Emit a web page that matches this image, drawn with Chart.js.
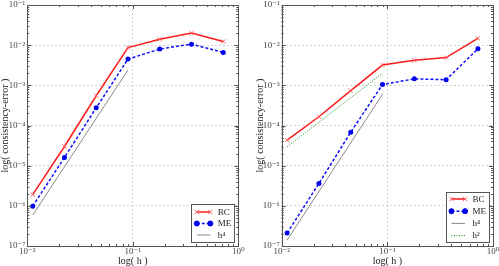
<!DOCTYPE html>
<html>
<head>
<meta charset="utf-8">
<script src="https://cdn.jsdelivr.net/npm/chart.js@4.4.1/dist/chart.umd.min.js"></script>
<style>
  body { margin: 0; background: #fff; }
  canvas { position: absolute; top: 0; }
</style>
</head>
<body>
<canvas id="left" width="250" height="266" style="left:0"></canvas>
<canvas id="right" width="249" height="266" style="left:250px"></canvas>
<script>
// mesh sizes and errors
const hValues = [0.01125, 0.0225, 0.045, 0.09, 0.18, 0.36, 0.72];
const refH = [0.01125, 0.09];

const bcLeft = [1.9e-6, 3.0e-5, 5.5e-4, 8.7e-3, 1.4e-2, 2.0e-2, 1.23e-2];
const meLeft = [9.8e-7, 1.6e-5, 2.75e-4, 4.5e-3, 8.0e-3, 1.06e-2, 6.6e-3];
const h4Left = [5.9e-7, 2.4e-3];

const bcRight = [4.3e-5, 1.65e-4, 7.4e-4, 3.2e-3, 4.2e-3, 4.9e-3, 1.48e-2];
const meRight = [2.1e-7, 3.6e-6, 6.8e-5, 1.05e-3, 1.45e-3, 1.38e-3, 8.1e-3];
const h4Right = [1.4e-7, 6.0e-4];
const h2Right = [2.95e-5, 2.0e-3];

const xTicks = [1e-2, 1e-1, 1];
const xTickLabels = ["10\u207B\u00B2", "10\u207B\u00B9", "10\u2070"];
const yTicks = [1e-7, 1e-6, 1e-5, 1e-4, 1e-3, 1e-2, 1e-1];
const yTickLabels = ["10\u207B\u2077", "10\u207B\u2076", "10\u207B\u2075", "10\u207B\u2074", "10\u207B\u00B3", "10\u207B\u00B2", "10\u207B\u00B9"];

const serif = "'Liberation Serif', 'DejaVu Serif', serif";
const textColor = "#444";
const frameColor = "#555";

function pts(xs, ys) {
  return xs.map((x, i) => ({ x: x, y: ys[i] }));
}

function bcSet(ys) {
  return {
    label: "BC", data: pts(hValues, ys),
    borderColor: "#ff1a1a", borderWidth: 1.5,
    pointStyle: "crossRot", pointRadius: 3, pointBorderWidth: 1,
    pointBorderColor: "#ff6060", pointBackgroundColor: "#ff6060",
  };
}
function meSet(ys) {
  return {
    label: "ME", data: pts(hValues, ys),
    borderColor: "#1010ff", borderWidth: 1.5, borderDash: [3, 2],
    pointStyle: "circle", pointRadius: 2.5, pointBorderWidth: 0,
    pointBackgroundColor: "#0000ee", pointBorderColor: "#0000ee",
  };
}
function refSet(label, ys, color, dash) {
  return {
    label: label, data: pts(refH, ys),
    borderColor: color, borderWidth: 1, borderDash: dash,
    pointRadius: 0,
  };
}

// box, inward ticks and the legend
const framePlugin = {
  id: "frame",
  afterDraw(chart, args, opts) {
    const ctx = chart.ctx;
    const a = chart.chartArea;
    const xs = chart.scales.x, ys = chart.scales.y;
    ctx.save();
    ctx.strokeStyle = frameColor;
    ctx.lineWidth = 1;
    ctx.setLineDash([]);
    ctx.beginPath();
    for (let d = 0.01; d < 1.5; d *= 10) {
      for (let k = 1; k <= 9; k++) {
        const v = d * k;
        if (v > 1.0001) break;
        const px = Math.round(xs.getPixelForValue(v)) + 0.5;
        const len = k === 1 ? 4 : 2;
        ctx.moveTo(px, a.bottom); ctx.lineTo(px, a.bottom - len);
        ctx.moveTo(px, a.top); ctx.lineTo(px, a.top + len);
      }
    }
    for (let d = 1e-7; d < 0.15; d *= 10) {
      for (let k = 1; k <= 9; k++) {
        const v = d * k;
        if (v > 0.10001) break;
        const py = Math.round(ys.getPixelForValue(v)) + 0.5;
        const len = k === 1 ? 4 : 2;
        ctx.moveTo(a.left, py); ctx.lineTo(a.left + len, py);
        ctx.moveTo(a.right, py); ctx.lineTo(a.right - len, py);
      }
    }
    ctx.stroke();
    ctx.strokeRect(Math.round(a.left) + 0.5, Math.round(a.top) + 0.5,
      Math.round(a.right - a.left), Math.round(a.bottom - a.top));

    // legend
    const sets = chart.data.datasets;
    const w = opts.width, h = opts.height;
    const bx = a.right - 4 - w, by = a.bottom - 4 - h;
    ctx.fillStyle = "#fff";
    ctx.fillRect(bx, by, w, h);
    ctx.strokeStyle = frameColor;
    ctx.strokeRect(Math.round(bx) + 0.5, Math.round(by) + 0.5, Math.round(w), Math.round(h));
    sets.forEach((ds, i) => {
      const yy = by + opts.firstRow + i * opts.rowH;
      const x0 = bx + 5.5, x1 = bx + 19;
      ctx.strokeStyle = ds.borderColor;
      ctx.lineWidth = ds.borderWidth;
      ctx.setLineDash(ds.borderDash || []);
      ctx.beginPath();
      ctx.moveTo(x0, yy); ctx.lineTo(x1, yy);
      ctx.stroke();
      ctx.setLineDash([]);
      if (ds.pointRadius > 0) {
        ctx.fillStyle = ds.pointBackgroundColor;
        ctx.strokeStyle = ds.pointBorderColor;
        ctx.lineWidth = 1;
        [x0, x1].forEach((px) => {
          Chart.helpers.drawPoint(ctx, {
            pointStyle: ds.pointStyle, radius: ds.pointRadius,
            rotation: 0, borderWidth: ds.pointBorderWidth || 1,
          }, px, yy);
          if (ds.pointStyle === "circle") ctx.fill();
        });
      }
      ctx.fillStyle = "#222";
      ctx.font = "9px " + serif;
      ctx.textBaseline = "middle";
      ctx.textAlign = "left";
      ctx.fillText(ds.label, bx + 26.5, yy + 0.5);
    });
    ctx.restore();
  },
};

function makeChart(id, datasets, padding, yWidth, legend) {
  return new Chart(document.getElementById(id), {
    type: "line",
    data: { datasets: datasets },
    plugins: [framePlugin],
    options: {
      responsive: false,
      animation: false,
      devicePixelRatio: 1,
      layout: { padding: padding },
      plugins: {
        legend: { display: false },
        tooltip: { enabled: false },
        frame: legend,
      },
      scales: {
        x: {
          type: "logarithmic", min: 0.01, max: 1,
          afterBuildTicks: (s) => { s.ticks = xTicks.map((v) => ({ value: v })); },
          afterFit: (s) => { s.height = 20; s.paddingLeft = 0; s.paddingRight = 0; },
          ticks: {
            autoSkip: false, maxRotation: 0, padding: 1,
            color: textColor, font: { family: serif, size: 9, lineHeight: 1 },
            callback: (v, i) => xTickLabels[i],
          },
          grid: { color: "#c8c8c8", drawTicks: false, lineWidth: 0.8 },
          border: { display: false, dash: [2, 2] },
          title: {
            display: true, text: "log( h )", color: "#222",
            font: { family: serif, size: 10, lineHeight: 1 },
            padding: { top: 0, bottom: 0 },
          },
        },
        y: {
          type: "logarithmic", min: 1e-7, max: 1e-1,
          afterBuildTicks: (s) => { s.ticks = yTicks.map((v) => ({ value: v })); },
          afterFit: (s) => { s.width = yWidth; s.paddingTop = 0; s.paddingBottom = 0; },
          ticks: {
            autoSkip: false, padding: 2,
            color: textColor, font: { family: serif, size: 9, lineHeight: 1 },
            callback: (v, i) => yTickLabels[i],
          },
          grid: { color: "#c8c8c8", drawTicks: false, lineWidth: 0.8 },
          border: { display: false, dash: [2, 2] },
          title: {
            display: true, text: "log( consistency-error )", color: "#222",
            font: { family: serif, size: 10, lineHeight: 1 },
            padding: { top: 0.5, bottom: 0 },
          },
        },
      },
    },
  });
}

makeChart("left", [
  bcSet(bcLeft),
  meSet(meLeft),
  refSet("h\u2074", h4Left, "#8a8a8a", []),
], { left: 0, right: 11.7, top: 4, bottom: 0 }, 27.3,
  { width: 43, height: 38, rowH: 11.5, firstRow: 8 });

makeChart("right", [
  bcSet(bcRight),
  meSet(meRight),
  refSet("h\u2074", h4Right, "#8a8a8a", []),
  refSet("h\u00B2", h2Right, "#109010", [1, 1.5]),
], { left: 4.4, right: 6, top: 4, bottom: 0 }, 27.3,
  { width: 43, height: 50, rowH: 12.2, firstRow: 7 });
</script>
</body>
</html>
